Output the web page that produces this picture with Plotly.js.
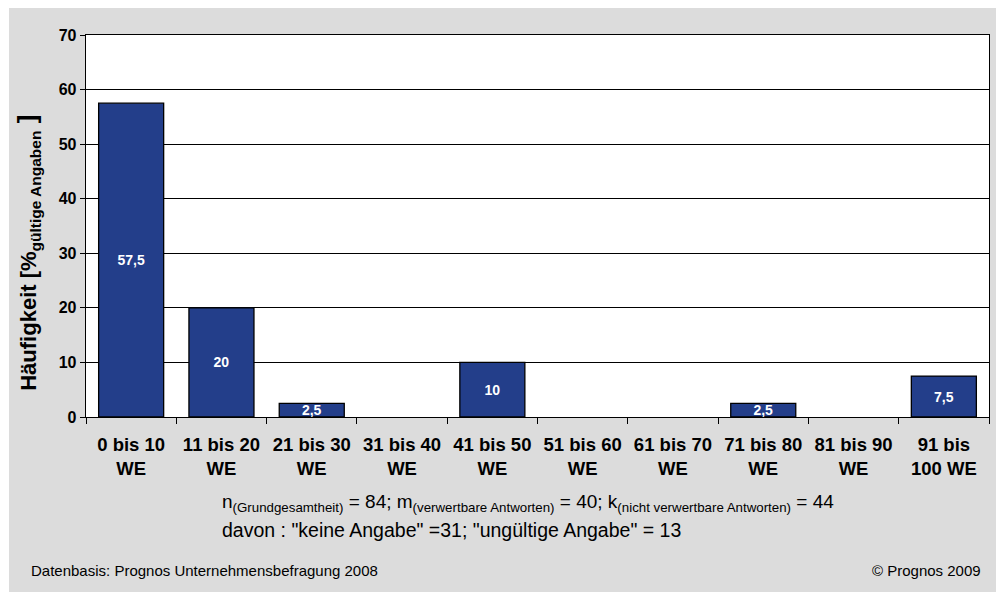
<!DOCTYPE html>
<html>
<head>
<meta charset="utf-8">
<script src="https://cdn.plot.ly/plotly-3.0.1.min.js"></script>
<style>
html,body{margin:0;padding:0;background:#ffffff;}
#chart{position:absolute;left:9px;top:8px;width:987px;height:584px;}
</style>
</head>
<body>
<div id="chart"></div>
<script>
const categories = ["0 bis 10<br>WE","11 bis 20<br>WE","21 bis 30<br>WE","31 bis 40<br>WE","41 bis 50<br>WE","51 bis 60<br>WE","61 bis 70<br>WE","71 bis 80<br>WE","81 bis 90<br>WE","91 bis<br>100 WE"];
const values = [57.5, 20, 2.5, 0, 10, 0, 0, 2.5, 0, 7.5];
const valueLabels = values.map(v => v === 0 ? "" : String(v).replace(".", ","));
const yTicks = [0,10,20,30,40,50,60,70];
const yTitle = "Häufigkeit [%<sub><span style='font-size:15.5px'>gültige Angaben</span></sub><span style='font-size:26px'> ]</span>";

const font = "'Liberation Sans', Arial, sans-serif";

const trace = {
  type: "bar",
  x: categories,
  y: values,
  text: valueLabels,
  textposition: "inside",
  insidetextanchor: "middle",
  constraintext: "none",
  textfont: {family: font, size: 14, color: "#ffffff", weight: "bold"},
  marker: {color: "#233e8a", line: {color: "#000000", width: values.map(v => v === 0 ? 0 : 1.3)}},
  hoverinfo: "none"
};

const layout = {
  width: 987, height: 584,
  margin: {l: 77, r: 7, t: 27, b: 175},
  paper_bgcolor: "#dcdcdc",
  plot_bgcolor: "#ffffff",
  bargap: 0.28,
  showlegend: false,
  font: {family: font, color: "#000000"},
  xaxis: {
    type: "category",
    showline: true, mirror: true, linecolor: "#000000", linewidth: 1.3,
    ticks: "outside", tickson: "boundaries", ticklen: 6, tickcolor: "#000000",
    ticklabelstandoff: 10,
    tickfont: {family: font, size: 18.5, weight: "bold", color: "#000000"},
    showgrid: false, fixedrange: true
  },
  yaxis: {
    range: [0, 70],
    tickvals: yTicks,
    ticktext: yTicks.map(String),
    showline: true, mirror: true, linecolor: "#000000", linewidth: 1.3,
    ticks: "outside", ticklen: 5, tickcolor: "#000000",
    showgrid: true, gridcolor: "#000000", gridwidth: 1,
    zeroline: false,
    tickfont: {family: font, size: 16, weight: "bold", color: "#000000"},
    fixedrange: true
  },
  annotations: [
    {xref: "paper", yref: "paper", x: -0.0642, y: 0.43, xanchor: "center", yanchor: "middle", showarrow: false,
     textangle: -90, text: yTitle,
     font: {family: font, size: 22, weight: "bold", color: "#000000"}},
    {xref: "paper", yref: "paper", x: 0.148, y: -0.225, xanchor: "left", yanchor: "middle", showarrow: false,
     text: "n<sub>(Grundgesamtheit)</sub> = 84; m<sub>(verwertbare Antworten)</sub> = 40; k<sub>(nicht verwertbare Antworten)</sub> = 44",
     font: {family: font, size: 19, color: "#000000"}},
    {xref: "paper", yref: "paper", x: 0.148, y: -0.296, xanchor: "left", yanchor: "middle", showarrow: false,
     text: "davon : \"keine Angabe\" =31; \"ungültige Angabe\" = 13",
     font: {family: font, size: 19.5, color: "#000000"}},
    {xref: "paper", yref: "paper", x: -0.0631, y: -0.403, xanchor: "left", yanchor: "middle", showarrow: false,
     text: "Datenbasis: Prognos Unternehmensbefragung 2008",
     font: {family: font, size: 15, color: "#000000"}},
    {xref: "paper", yref: "paper", x: 0.9934, y: -0.403, xanchor: "right", yanchor: "middle", showarrow: false,
     text: "© Prognos 2009",
     font: {family: font, size: 15, color: "#000000"}}
  ]
};

Plotly.newPlot("chart", [trace], layout, {displayModeBar: false, staticPlot: true});
</script>
</body>
</html>
